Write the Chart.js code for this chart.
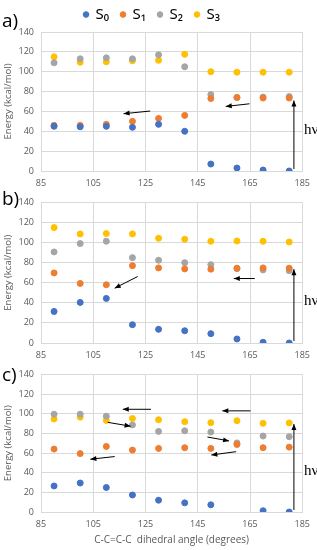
<!DOCTYPE html>
<html>
<head>
<meta charset="utf-8">
<script src="https://cdn.jsdelivr.net/npm/chart.js@4.4.0/dist/chart.umd.min.js"></script>
<style>
  body { margin: 0; background: #fff; width: 317px; height: 550px; position: relative; overflow: hidden; }
  .box { position: absolute; left: 0; width: 317px; }
  .lab { position: absolute; left: 2px; font: 19px "Open Sans", sans-serif; color: #000; line-height: 1; }
</style>
</head>
<body>
<div class="box" style="top:0;height:190px"><canvas id="chartA"></canvas></div>
<div class="box" style="top:190px;height:175px"><canvas id="chartB"></canvas></div>
<div class="box" style="top:362px;height:188px"><canvas id="chartC"></canvas></div>
<div class="lab" style="top:11px">a)</div>
<div class="lab" style="top:189px">b)</div>
<div class="lab" style="top:365px">c)</div>
<script>
// dihedral angles (degrees)
const angles = [90, 100, 110, 120, 130, 140, 150, 160, 170, 180];
const seriesNames = ["S₀", "S₁", "S₂", "S₃"];
const colors = ["#4472C4", "#ED7D31", "#A5A5A5", "#FFC000"];
const xTicks = [85, 105, 125, 145, 165, 185];
const yTicks = [0, 20, 40, 60, 80, 100, 120, 140];

// panel a)
const aS0 = [45, 44.5, 45, 44, 47, 40, 7, 3, 1, 0];
const aS1 = [46, 46, 47, 50, 53, 56, 73, 74, 73.5, 73.5];
const aS2 = [109, 113, 114, 113, 117, 105, 77, 74, 74.5, 75];
const aS3 = [115, 109.5, 110, 111, 111.5, 117.5, 100, 99.5, 99.5, 99.5];

// panel b)
const bS0 = [31.4, 40.4, 44.4, 18.2, 13.6, 12.2, 9.3, 4, 0.7, 0];
const bS1 = [69.8, 59.3, 58, 77, 74.8, 73.8, 73.5, 74.5, 74.8, 74.5];
const bS2 = [90.7, 99, 101.3, 85, 82.4, 80, 78, 74, 72.8, 72];
const bS3 = [114.9, 108.6, 109, 108.6, 104.3, 103.3, 101.3, 101.6, 101.3, 100.6];

// panel c)
const cS0 = [26.5, 29.5, 24.9, 17.3, 12, 9.3, 7.3, null, 1.3, 0];
const cS1 = [64, 59.4, 66.7, 63, 64.7, 65.4, 64.7, 68.7, 65.4, 66];
const cS2 = [99.5, 99.5, 97.5, 88.6, 82, 82.6, 81.3, 70.3, 77.3, 76.6];
const cS3 = [94.6, 96.5, 93.2, 95.2, 93.9, 91.9, 90.9, 92.9, 90.2, 90.6];

// arrows [x1, y1, x2, y2] in data units, and the h-nu excitation arrow top
const aArrows = [[126.8, 60.4, 116.6, 57.7], [164.8, 67.7, 155.7, 65]];
const bArrows = [[122, 66.2, 113.2, 54.6], [166.8, 64.2, 158.8, 64.2]];
const cArrows = [[127.1, 104.5, 116.3, 104.5], [165.2, 102.9, 154.4, 102.9],
                 [110.6, 91.2, 119.3, 87.3], [113.2, 56.4, 103.9, 53.7],
                 [148.7, 76.3, 157, 72.3], [159.7, 61.4, 150.2, 58]];
const hvTop = [71, 73.5, 89.6];

function head(ctx, x1, y1, x2, y2, len, w) {
  const ang = Math.atan2(y2 - y1, x2 - x1);
  ctx.beginPath();
  ctx.moveTo(x2, y2);
  ctx.lineTo(x2 - len * Math.cos(ang) + w * Math.sin(ang), y2 - len * Math.sin(ang) - w * Math.cos(ang));
  ctx.lineTo(x2 - len * Math.cos(ang) - w * Math.sin(ang), y2 - len * Math.sin(ang) + w * Math.cos(ang));
  ctx.closePath();
  ctx.fill();
}

function arrowPlugin(list, top) {
  return {
    id: "arrows",
    afterDatasetsDraw(chart) {
      const ctx = chart.ctx;
      const x = chart.scales.x, y = chart.scales.y;
      ctx.save();
      ctx.strokeStyle = "#000";
      ctx.fillStyle = "#000";
      ctx.lineWidth = 1;
      list.forEach(a => {
        const x1 = x.getPixelForValue(a[0]), y1 = y.getPixelForValue(a[1]);
        const x2 = x.getPixelForValue(a[2]), y2 = y.getPixelForValue(a[3]);
        ctx.beginPath();
        ctx.moveTo(x1, y1);
        ctx.lineTo(x2, y2);
        ctx.stroke();
        head(ctx, x1, y1, x2, y2, 6, 2.5);
      });
      // h-nu
      const hx = x.getPixelForValue(181.8);
      const hy1 = y.getPixelForValue(2), hy2 = y.getPixelForValue(top);
      ctx.beginPath();
      ctx.moveTo(hx, hy1);
      ctx.lineTo(hx, hy2);
      ctx.stroke();
      head(ctx, hx, hy1, hx, hy2, 6, 2.5);
      ctx.font = "15px 'Liberation Serif', serif";
      ctx.textBaseline = "middle";
      ctx.textAlign = "left";
      ctx.fillText("hν", 304, y.getPixelForValue(41.5));
      ctx.restore();
    }
  };
}

function build(id, series, arrows, top, opts) {
  const datasets = series.map((vals, i) => ({
    label: seriesNames[i],
    data: angles.map((a, k) => ({ x: a, y: vals[k] })).filter(p => p.y !== null),
    backgroundColor: colors[i],
    borderColor: colors[i],
    pointRadius: 3,
    pointHoverRadius: 3
  }));
  return new Chart(document.getElementById(id), {
    type: "scatter",
    data: { datasets: datasets },
    options: {
      responsive: true,
      maintainAspectRatio: false,
      animation: false,
      layout: { padding: { top: opts.top, right: 13, left: 0, bottom: 0 } },
      plugins: {
        legend: {
          display: opts.legend,
          labels: {
            usePointStyle: true,
            boxWidth: 4,
            boxHeight: 4,
            padding: 12,
            color: "#000",
            font: { family: "'Noto Sans', sans-serif", size: 15 }
          }
        },
        tooltip: { enabled: false }
      },
      scales: {
        x: {
          type: "linear",
          min: 85, max: 185,
          afterBuildTicks: s => { s.ticks = xTicks.map(v => ({ value: v })); },
          afterFit: s => { s.height = opts.xh; },
          grid: { color: "#d9d9d9", drawTicks: false },
          border: { color: "#d9d9d9" },
          ticks: { color: "#595959", font: { family: "'Open Sans', sans-serif", size: 9 }, padding: 7 },
          title: {
            display: opts.xtitle,
            text: "C-C=C-C  dihedral angle (degrees)",
            color: "#595959",
            font: { family: "'Open Sans', sans-serif", size: 10 },
            padding: { top: 3 }
          }
        },
        y: {
          min: 0, max: 140,
          afterBuildTicks: s => { s.ticks = yTicks.map(v => ({ value: v })); },
          afterFit: s => { s.width = 41; },
          grid: { color: "#d9d9d9", drawTicks: false },
          border: { color: "#d9d9d9" },
          ticks: { color: "#595959", font: { family: "'Open Sans', sans-serif", size: 9 }, padding: 7 },
          title: {
            display: true,
            text: "Energy (kcal/mol)",
            color: "#595959",
            font: { family: "'Open Sans', sans-serif", size: 9.5 },
            padding: { top: 3, bottom: 0 }
          }
        }
      }
    },
    plugins: [arrowPlugin(arrows, top)]
  });
}

build("chartA", [aS0, aS1, aS2, aS3], aArrows, hvTop[0], { top: -5, legend: true, xh: 19, xtitle: false });
build("chartB", [bS0, bS1, bS2, bS3], bArrows, hvTop[1], { top: 12, legend: false, xh: 22, xtitle: false });
build("chartC", [cS0, cS1, cS2, cS3], cArrows, hvTop[2], { top: 9, legend: false, xh: 38, xtitle: true });
</script>
</body>
</html>
